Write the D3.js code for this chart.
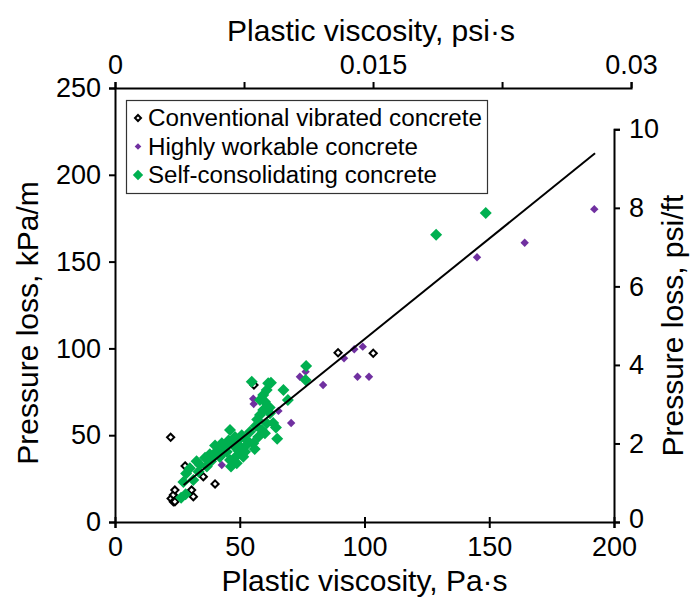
<!DOCTYPE html>
<html>
<head>
<meta charset="utf-8">
<script src="https://cdn.jsdelivr.net/npm/d3@7"></script>
<style>
  html, body { margin: 0; padding: 0; background: #fff; }
  svg { display: block; }
  text { font-family: "Liberation Sans", Arial, sans-serif; fill: #000; }
</style>
</head>
<body>
<svg id="chart" width="699" height="602"></svg>
<script>
// ---------------- DATA ----------------
const seriesNames = ["Conventional vibrated concrete", "Highly workable concrete", "Self-consolidating concrete"];

// [plastic viscosity Pa·s, pressure loss kPa/m]
const conventional = [
  [22.3, 48.8], [22.5, 13.5], [23.4, 11.7], [23.4, 15.6], [24.0, 18.4], [24.0, 11.7],
  [28.1, 32.3], [30.7, 18.4], [31.4, 14.6], [35.4, 26.1], [40.1, 21.9], [55.7, 78.9],
  [89.4, 97.5], [103.5, 97.2]
];

const highlyWorkable = [
  [42.8, 32.8], [55.4, 71.0], [55.6, 68.0], [65.5, 64.0], [70.6, 57.0], [74.1, 83.7],
  [76.4, 86.6], [83.4, 78.9], [91.8, 94.3], [95.9, 99.5], [97.2, 83.7], [99.3, 101.0],
  [101.8, 83.7], [145.1, 152.5], [164.2, 160.9], [192.1, 180.2]
];

const selfConsolidating = [
  [26.5, 14.0], [28.3, 16.0], [27.4, 23.0], [28.5, 28.0], [30.0, 31.0], [31.4, 24.2],
  [32.7, 35.0], [34.0, 33.0], [36.1, 37.0], [36.8, 32.0], [38.0, 39.0], [39.4, 38.6],
  [40.1, 44.0], [41.0, 41.0], [42.8, 45.3], [43.5, 40.0], [44.8, 40.5], [45.5, 47.0],
  [46.1, 35.7], [46.1, 53.0], [46.5, 31.9], [47.5, 44.0], [48.1, 49.0], [48.8, 33.8],
  [49.5, 41.0], [50.1, 43.4], [50.8, 50.0], [51.4, 37.6], [52.1, 40.5], [53.0, 47.0],
  [54.1, 52.0], [54.8, 80.8], [55.4, 45.3], [56.0, 42.0], [57.4, 49.0], [58.1, 61.6],
  [58.1, 70.3], [58.8, 53.0], [59.4, 64.5], [59.4, 73.2], [60.1, 51.1], [60.1, 69.3],
  [60.8, 56.9], [60.8, 76.0], [61.4, 79.9], [62.1, 62.6], [62.5, 80.2], [63.4, 57.0],
  [64.5, 54.5], [65.0, 48.0], [67.5, 76.0], [69.3, 70.3], [76.4, 81.8], [76.6, 89.9],
  [33.5, 29.0], [38.5, 35.0], [42.0, 37.5], [44.0, 43.0], [49.0, 46.5], [52.5, 44.0],
  [56.5, 55.5], [57.0, 59.0], [62.0, 66.0], [48.0, 37.0],
  [128.7, 165.5], [148.6, 178.0]
];

// linear trend line (Pa·s -> kPa/m), drawn between these x values
const trendSlope = 1.159;
const trendIntercept = -10.6;
const trendRange = [27.5, 192.4];

const bottomTicks = [0, 50, 100, 150, 200];
const leftTicks = [0, 50, 100, 150, 200, 250];
const topTicks = [0, 0.0075, 0.015, 0.0225, 0.03];
const topTickLabels = ["0", "", "0.015", "", "0.03"];
const rightTicks = [0, 2, 4, 6, 8, 10];

const PAS_TO_PSIS = 0.000145038;    // 1 Pa·s in psi·s
const KPAM_TO_PSIFT = 0.0442075;    // 1 kPa/m in psi/ft

// ---------------- CHART ----------------
const svg = d3.select("#chart");
const x = d3.scaleLinear().domain([0, 200]).range([115, 614]);
const y = d3.scaleLinear().domain([0, 250]).range([522, 88]);
const xTop = d3.scaleLinear().domain([0, 0.03]).range([x(0), x(0.03 / PAS_TO_PSIS)]);
const yRight = d3.scaleLinear().domain([0, 10]).range([y(0), y(10 / KPAM_TO_PSIFT)]);

const axisStroke = 2;
const tickFont = 27;
const titleFont = 30;

function styleAxis(g) {
  g.select(".domain").attr("stroke", "#000").attr("stroke-width", axisStroke);
  g.selectAll(".tick line").attr("stroke", "#000").attr("stroke-width", axisStroke);
  g.selectAll(".tick text").attr("font-size", tickFont).attr("font-family", "Liberation Sans, Arial, sans-serif").attr("fill", "#000");
}

// bottom axis
const gB = svg.append("g").attr("transform", `translate(0,${y(0)})`)
  .call(d3.axisBottom(x).tickValues(bottomTicks).tickSizeOuter(0).tickSize(6).tickPadding(9).tickFormat(d3.format("d")));
styleAxis(gB);
gB.selectAll(".tick line").attr("y1", -5).attr("y2", 6);

// left axis
const gL = svg.append("g").attr("transform", `translate(${x(0)},0)`)
  .call(d3.axisLeft(y).tickValues(leftTicks).tickSizeOuter(0).tickSize(6).tickPadding(8).tickFormat(d3.format("d")));
styleAxis(gL);
gL.selectAll(".tick line").attr("x1", -6).attr("x2", 0);

// top axis
const gT = svg.append("g").attr("transform", `translate(0,${y(250)})`)
  .call(d3.axisTop(xTop).tickValues(topTicks).tickSizeOuter(0).tickSize(6).tickPadding(8)
    .tickFormat((d, i) => topTickLabels[i]));
styleAxis(gT);

// right axis
const gR = svg.append("g").attr("transform", `translate(${x(200)},0)`)
  .call(d3.axisRight(yRight).tickValues(rightTicks).tickSizeOuter(0).tickSize(6).tickPadding(9).tickFormat(d3.format("d")));
styleAxis(gR);
gR.selectAll(".tick text").filter(d => d === 0).attr("dy", "0.2em");

// axis titles
svg.append("text").attr("x", (x(0) + x(200)) / 2).attr("y", 591).attr("text-anchor", "middle")
  .attr("font-size", titleFont).text("Plastic viscosity, Pa·s");
svg.append("text").attr("x", (xTop(0) + xTop(0.03)) / 2 - 2).attr("y", 41).attr("text-anchor", "middle")
  .attr("font-size", titleFont).text("Plastic viscosity, psi·s");
svg.append("text").attr("transform", `translate(38,323) rotate(-90)`).attr("text-anchor", "middle")
  .attr("font-size", titleFont).text("Pressure loss, kPa/m");
svg.append("text").attr("transform", `translate(683,${(yRight(0) + yRight(10)) / 2}) rotate(-90)`).attr("text-anchor", "middle")
  .attr("font-size", titleFont).text("Pressure loss, psi/ft");

// markers
const diamond = (s) => `M0,${-s}L${s},0L0,${s}L${-s},0Z`;

svg.append("g").selectAll("path").data(conventional).join("path")
  .attr("transform", d => `translate(${x(d[0])},${y(d[1])})`)
  .attr("d", diamond(3.6)).attr("fill", "#fff").attr("stroke", "#000").attr("stroke-width", 2);

svg.append("g").selectAll("path").data(highlyWorkable).join("path")
  .attr("transform", d => `translate(${x(d[0])},${y(d[1])})`)
  .attr("d", diamond(4.2)).attr("fill", "#7030A0");

svg.append("g").selectAll("path").data(selfConsolidating).join("path")
  .attr("transform", d => `translate(${x(d[0])},${y(d[1])})`)
  .attr("d", diamond(6)).attr("fill", "#00B050");

// trend line
svg.append("line")
  .attr("x1", x(trendRange[0])).attr("y1", y(trendSlope * trendRange[0] + trendIntercept))
  .attr("x2", x(trendRange[1])).attr("y2", y(trendSlope * trendRange[1] + trendIntercept))
  .attr("stroke", "#000").attr("stroke-width", 2);

// legend
const lg = svg.append("g");
lg.append("rect").attr("x", 126.5).attr("y", 100.5).attr("width", 361).attr("height", 93)
  .attr("fill", "#fff").attr("stroke", "#333").attr("stroke-width", 1.2);
const legendY = [118, 146.5, 175];
const legendWidths = [334, 270, 289];
const legendMarkers = [
  { d: diamond(3), fill: "#fff", stroke: "#000", sw: 2 },
  { d: diamond(3.3), fill: "#7030A0", stroke: "none", sw: 0 },
  { d: diamond(5.2), fill: "#00B050", stroke: "none", sw: 0 }
];
seriesNames.forEach((name, i) => {
  const m = legendMarkers[i];
  lg.append("path").attr("transform", `translate(138,${legendY[i]})`).attr("d", m.d)
    .attr("fill", m.fill).attr("stroke", m.stroke).attr("stroke-width", m.sw);
  lg.append("text").attr("x", 148).attr("y", legendY[i]).attr("dy", "0.36em")
    .attr("font-family", "Lato, 'Open Sans', sans-serif").attr("font-size", 23)
    .attr("textLength", legendWidths[i]).attr("lengthAdjust", "spacingAndGlyphs")
    .text(name);
});
</script>
</body>
</html>
